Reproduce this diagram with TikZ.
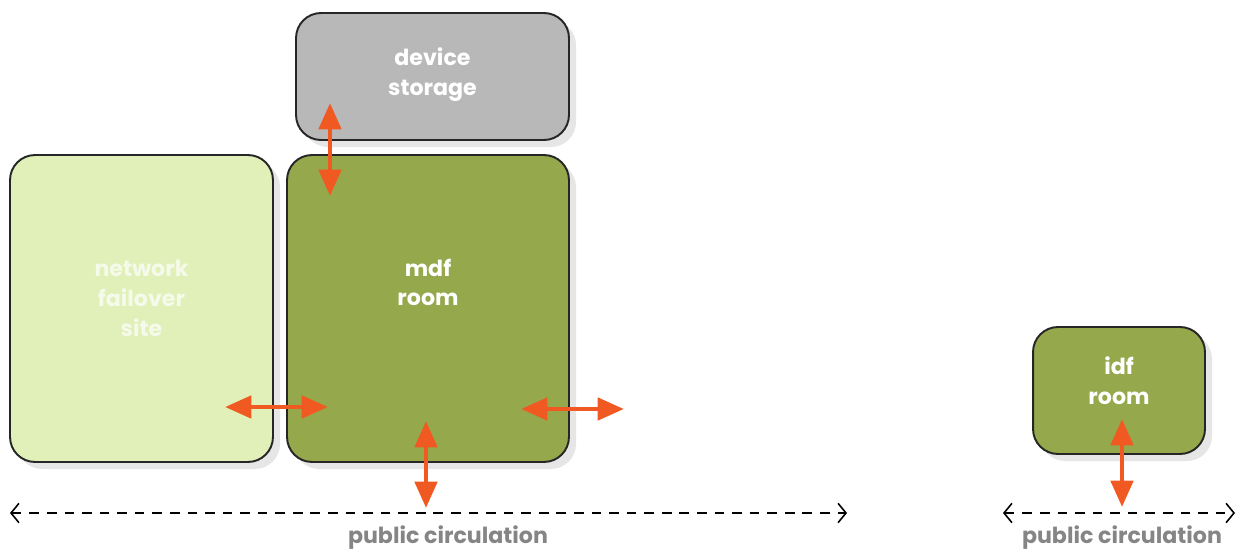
\documentclass[tikz,border=0pt]{standalone}
\usepackage{fontspec}
\setmainfont{Poppins}
\usetikzlibrary{shapes,positioning,arrows.meta,shadows}
\usetikzlibrary{calc}

\definecolor{mdfgreen}{HTML}{95A84C}
\definecolor{palegreen}{HTML}{E0F0B8}
\definecolor{storegray}{HTML}{B8B8B8}
\definecolor{linkorange}{HTML}{F05A22}
\definecolor{labelgray}{HTML}{858585}

\begin{document}
\begin{tikzpicture}[
        x=0.02cm, y=-0.02cm,
        room/.style={draw=black!85, line width=1.1pt, rounded corners=0.5cm,
            align=center, text=white, text depth=0.4cm,
            font=\bfseries\fontsize{12.6}{17}\selectfont,
            drop shadow={opacity=0.2, shadow xshift=4pt, shadow yshift=-4pt}},
        link/.style={linkorange, line width=2.8pt,
            {Triangle[length=15pt,width=12.5pt]}-{Triangle[length=15pt,width=12.5pt]}},
        circ/.style={line width=0.9pt, dash pattern=on 5.5pt off 4.5pt,
            {Straight Barb[length=4.5pt,width=11pt]}-{Straight Barb[length=4.5pt,width=11pt]}},
        circlabel/.style={text=labelgray, font=\bfseries\fontsize{12.6}{15}\selectfont}
    ]
        \useasboundingbox (0,0) rectangle (1246,550);

        % rooms
        \node[room, fill=storegray, text depth=0.2cm, minimum width=5.46cm, minimum height=2.54cm] (store) at (432.5,76.5) {device\\storage};
        \node[room, fill=palegreen, text=white!70!palegreen, minimum width=5.26cm, minimum height=6.14cm] (failover) at (141.5,308.5) {network\\failover\\site};
        \node[room, fill=mdfgreen, text depth=1.05cm, minimum width=5.64cm, minimum height=6.14cm] (mdf) at (428,308.5) {mdf\\room};
        \node[room, fill=mdfgreen, minimum width=3.44cm, minimum height=2.54cm] (idf) at (1119,390.5) {idf\\room};

        % circulation
        \node[circlabel] (pub1) at (448,538) {public circulation};
        \node[circlabel] (pub2) at (1122,538) {public circulation};
        \coordinate (c1w) at (10,513);
        \coordinate (c1e) at (847,513);
        \coordinate (c2w) at (1003,513);
        \coordinate (c2e) at (1235,513);
        \draw[circ] (c1w) -- (c1e);
        \draw[circ] (c2w) -- (c2e);

        % links
        \coordinate (s1) at (330,103);
        \coordinate (s2) at (330,196);
        \coordinate (f1) at (225,407);
        \coordinate (f2) at (328,407);
        \coordinate (m1) at (521,409);
        \coordinate (m2) at (624,409);
        \coordinate (p1) at (426,421);
        \coordinate (p2) at (426,508);
        \coordinate (i1) at (1122,419);
        \coordinate (i2) at (1122,507);
        \draw[link] (s1) -- (s2);
        \draw[link] (f1) -- (f2);
        \draw[link] (m1) -- (m2);
        \draw[link] (p1) -- (p2);
        \draw[link] (i1) -- (i2);
    \end{tikzpicture}
\end{document}
